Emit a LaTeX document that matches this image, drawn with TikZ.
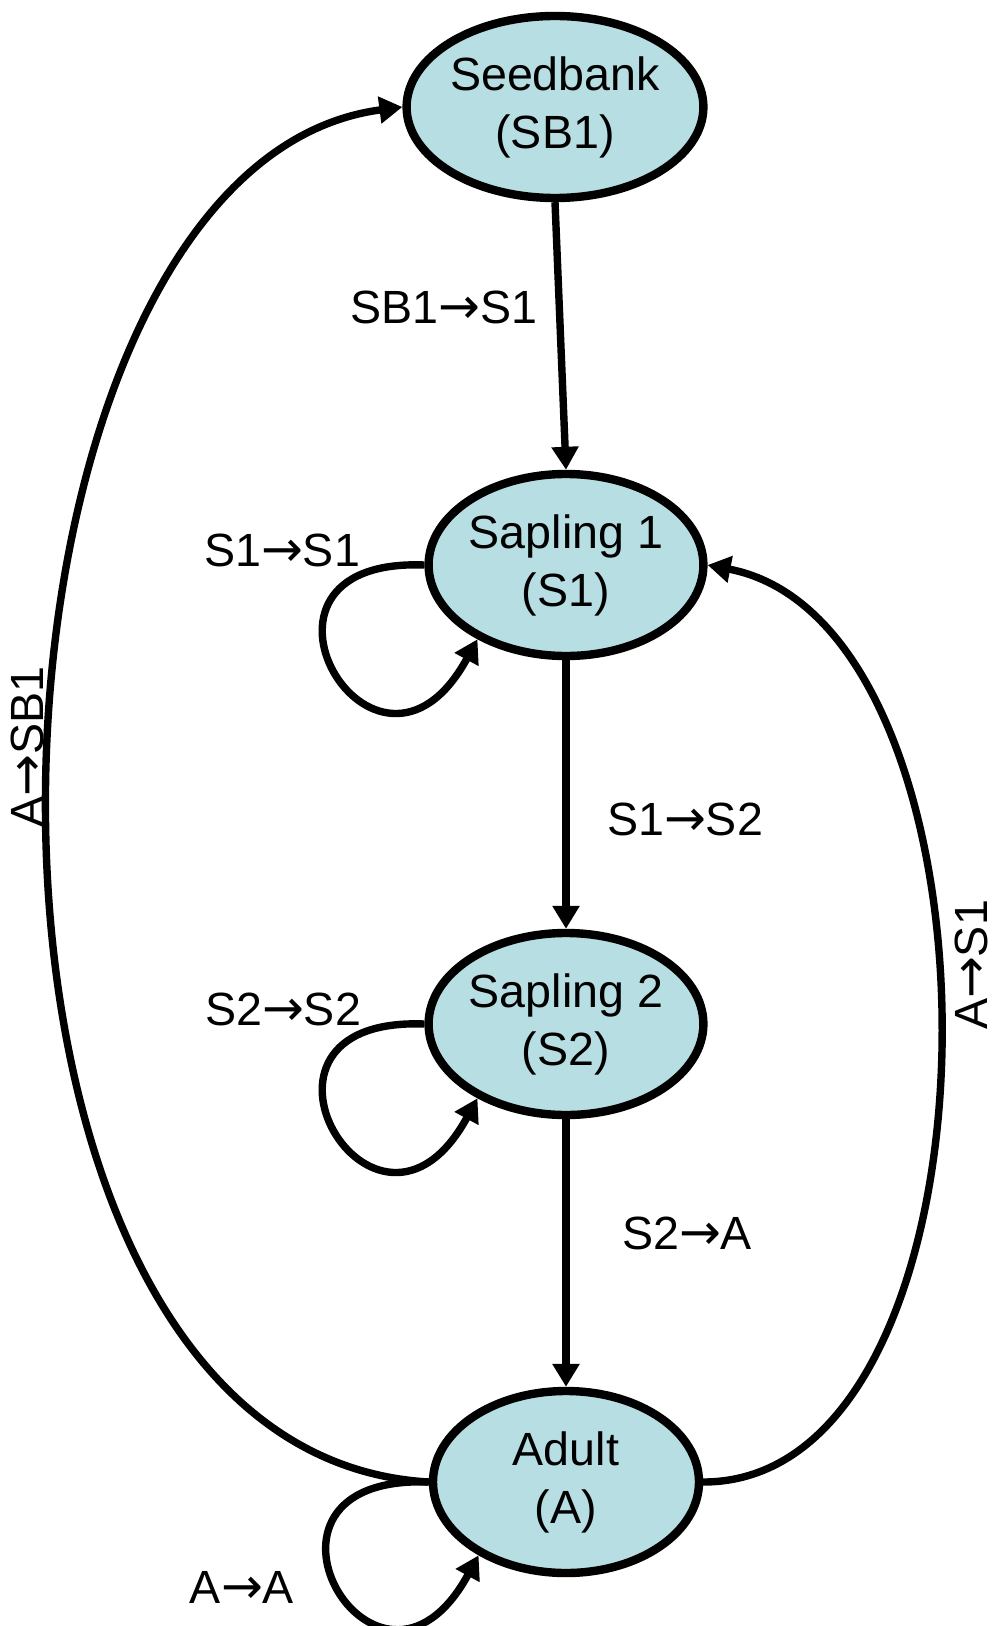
\documentclass[tikz,border=0pt]{standalone}
\usepackage{fontspec}
\setmainfont{Liberation Sans}
\newfontfamily\arrowfont{DejaVu Sans}
\usetikzlibrary{arrows.meta,shapes.geometric}
\definecolor{stagefill}{RGB}{183,222,226}
\newcommand{\tarrow}{{\arrowfont\fontsize{25}{28}\selectfont →}}
\tikzset{
  stage/.style={
    ellipse,
    draw,
    fill=stagefill,
    line width=4.2pt,
    minimum width=133pt,
    minimum height=91pt,
    align=center,
    inner sep=0pt,
    font=\fontsize{23.3}{29}\selectfont
  },
  flow/.style={-{Triangle[length=11.5pt,width=13pt]},line width=3.7pt},
  trans/.style={inner sep=0pt,font=\fontsize{23.3}{28}\selectfont}
}
\begin{document}
\begin{tikzpicture}[x=0.5pt,y=-0.5pt]
\useasboundingbox (0,0) rectangle (997,1626);

% Stages
\node[stage] (seedbankS) at (555,107) {Seedbank\\(SB1)};
\node[stage] (sapling1S) at (566,565) {Sapling 1\\(S1)};
\node[stage] (sapling2S) at (566,1024) {Sapling 2\\(S2)};
\node[stage] (adultS) at (566,1482) {Adult\\(A)};

% Transition labels
\node[trans] (sbsL) at (444,307) {SB1\tarrow S1};
\node[trans] (ssL) at (685,819) {S1\tarrow S2};
\node[trans] (saL) at (687,1233) {S2\tarrow A};
\node[trans] (s1loopL) at (282,550) {S1\tarrow S1};
\node[trans] (s2loopL) at (283,1009) {S2\tarrow S2};
\node[trans] (aloopL) at (242,1587) {A\tarrow A};
\node[trans, rotate=90] (asbL) at (27,747) {A\tarrow SB1};
\node[trans, rotate=90] (asL) at (971,965) {A\tarrow S1};

% Growth chain
\draw[flow] (seedbankS.south) -- (sapling1S.north);
\draw[flow] (sapling1S.south) -- (sapling2S.north);
\draw[flow] (sapling2S.south) -- (adultS.north);

% Staying in the same stage
\draw[flow] (sapling1S.west) .. controls +(-208,-8) and +(-102,187) .. (sapling1S.220);
\draw[flow] (sapling2S.west) .. controls +(-208,-8) and +(-102,187) .. (sapling2S.220);
\draw[flow] (adultS.west) .. controls +(-208,-8) and +(-102,187) .. (adultS.220);

% Reproduction back to seedbank and sapling 1
\draw[flow] (adultS.west) .. controls +(-525,-30) and +(-455,60) .. (seedbankS.west);
\draw[flow] (adultS.east) .. controls +(312,0) and +(312,60) .. (sapling1S.east);

\end{tikzpicture}
\end{document}
